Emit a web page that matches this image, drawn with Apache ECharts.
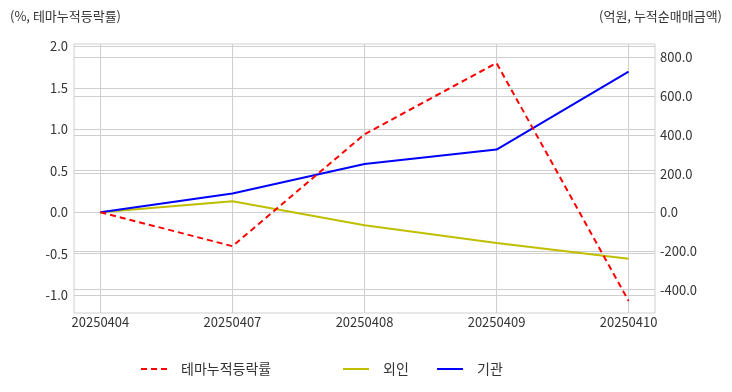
<!DOCTYPE html>
<html><head><meta charset="utf-8">
<script src="https://cdn.jsdelivr.net/npm/echarts@6/dist/echarts.min.js"></script>
<style>html,body{margin:0;padding:0;background:#fff}#c{width:732px;height:392px}</style>
</head><body><div id="c"></div>
<script>
const categories = ['20250404','20250407','20250408','20250409','20250410'];
const themeReturn = [0, -0.41, 0.94, 1.80, -1.07];
const foreign = [0, 57, -67, -159, -240];
const institution = [0, 97, 249, 324, 727];
const leftTicks = [-1.0, -0.5, 0, 0.5, 1.0, 1.5, 2.0];
const rightTicks = [-400, -200, 0, 200, 400, 600, 800];
const seriesNames = ['테마누적등락률', '외인', '기관'];
const leftTitle = '(%, 테마누적등락률)';
const rightTitle = '(억원, 누적순매매금액)';

const FONT = '"Noto Sans CJK KR", "Noto Sans", sans-serif';
const GRID = '#cfcfcf';
const TXT = '#333';
const toPairs = arr => arr.map((v, i) => [i, v]);
const idx = categories.map((_, i) => i);
const legendBase = {
  left: 0, top: 362, padding: 0, itemWidth: 26, itemHeight: 14,
  itemStyle: {opacity: 0},
  textStyle: {color: TXT, fontSize: 14, padding: [0, 0, 0, 9], fontFamily: FONT}
};

const chart = echarts.init(document.getElementById('c'), null, {renderer: 'canvas'});
chart.setOption({
  animation: false,
  backgroundColor: '#fff',
  textStyle: {fontFamily: FONT},
  grid: {left: 74, top: 44, width: 581, height: 269, show: true, borderColor: GRID, borderWidth: 1, containLabel: false},
  graphic: [
    {type: 'text', left: 10, top: 10, style: {text: leftTitle, font: '13px ' + FONT, fill: TXT}},
    {type: 'text', right: 10, top: 10, style: {text: rightTitle, font: '13px ' + FONT, fill: TXT}}
  ],
  xAxis: {
    type: 'value', min: -0.2, max: 4.2,
    axisLine: {show: false}, axisTick: {show: false, customValues: idx},
    axisLabel: {customValues: idx, formatter: v => categories[Math.round(v)], color: TXT, fontSize: 13, margin: 3, fontFamily: FONT},
    splitLine: {show: true, lineStyle: {color: GRID, width: 1}}
  },
  yAxis: [
    {
      type: 'value', position: 'left', min: -1.216, max: 2.029,
      axisLine: {show: false}, axisTick: {show: false, customValues: leftTicks},
      axisLabel: {customValues: leftTicks, formatter: v => v.toFixed(1), color: TXT, fontSize: 13, margin: 6, fontFamily: FONT},
      splitLine: {show: true, lineStyle: {color: GRID, width: 1}}
    },
    {
      type: 'value', position: 'right', min: -521, max: 870,
      axisLine: {show: false}, axisTick: {show: false, customValues: rightTicks},
      axisLabel: {customValues: rightTicks, formatter: v => v.toFixed(1), color: TXT, fontSize: 13, margin: 5, fontFamily: FONT},
      splitLine: {show: true, lineStyle: {color: GRID, width: 1}}
    }
  ],
  legend: [
    Object.assign({}, legendBase, {data: [seriesNames[0]], left: 140}),
    Object.assign({}, legendBase, {data: [seriesNames[1]], left: 342}),
    Object.assign({}, legendBase, {data: [seriesNames[2]], left: 436})
  ],
  series: [
    {name: seriesNames[0], type: 'line', yAxisIndex: 0, data: toPairs(themeReturn), symbol: 'none', color: '#ff0000', lineStyle: {color: '#ff0000', width: 2, type: [6, 4]}, z: 3},
    {name: seriesNames[1], type: 'line', yAxisIndex: 1, data: toPairs(foreign), symbol: 'none', color: '#bfbf00', lineStyle: {color: '#bfbf00', width: 2}, z: 2},
    {name: seriesNames[2], type: 'line', yAxisIndex: 1, data: toPairs(institution), symbol: 'none', color: '#0000ff', lineStyle: {color: '#0000ff', width: 2}, z: 2}
  ]
});
</script></body></html>
